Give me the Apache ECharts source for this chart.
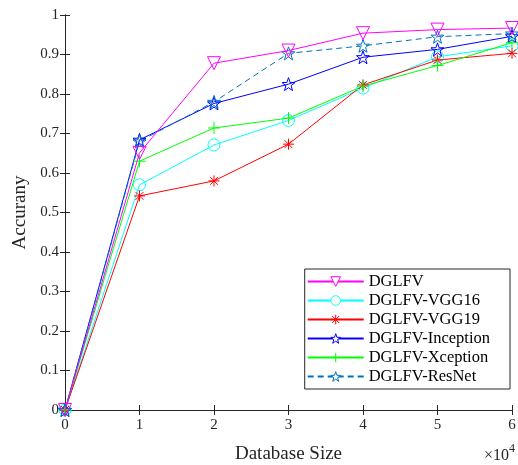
<!DOCTYPE html>
<html>
<head>
<meta charset="utf-8">
<script src="https://cdn.jsdelivr.net/npm/echarts@6/dist/echarts.min.js"></script>
<style>
  html, body { margin: 0; padding: 0; background: #fff; }
  #chart { width: 518px; height: 465px; }
</style>
</head>
<body>
<div id="chart"></div>
<script>
// database size (x 10^4)
const sizes = [0, 1, 2, 3, 4, 5, 6];

const dglfv     = [0, 0.651, 0.878, 0.910, 0.954, 0.963, 0.967];
const vgg16     = [0, 0.570, 0.671, 0.733, 0.815, 0.894, 0.922];
const vgg19     = [0, 0.542, 0.580, 0.673, 0.823, 0.886, 0.903];
const inception = [0, 0.684, 0.776, 0.825, 0.893, 0.913, 0.946];
const xception  = [0, 0.630, 0.714, 0.739, 0.820, 0.872, 0.930];
const resnet    = [0, 0.680, 0.780, 0.903, 0.922, 0.945, 0.953];

const seriesNames = ['DGLFV', 'DGLFV-VGG16', 'DGLFV-VGG19', 'DGLFV-Inception', 'DGLFV-Xception', 'DGLFV-ResNet'];
const colors = ['#ff00ff', '#00ffff', '#ff0000', '#0000ff', '#00ff00', '#0072bd'];

const STAR = 'path://M0,-10 L2.35,-3.24 L9.51,-3.09 L3.8,1.24 L5.88,8.09 L0,4 L-5.88,8.09 L-3.8,1.24 L-9.51,-3.09 L-2.35,-3.24 Z';
const ASTER = 'path://M-5,0 L5,0 M0,-5 L0,5 M-3.6,-3.6 L3.6,3.6 M-3.6,3.6 L3.6,-3.6';
const PLUS = 'path://M-5,0 L5,0 M0,-5 L0,5';

const serif = '"Liberation Serif", "DejaVu Serif", serif';
const ink = '#262626';

function pairs(vals) {
  return sizes.map((x, i) => [x, vals[i]]);
}

function mk(name, vals, color, symbol, size, opts) {
  opts = opts || {};
  return {
    name: name,
    type: 'line',
    data: pairs(vals),
    symbol: symbol,
    symbolSize: size,
    symbolRotate: opts.rotate || 0,
    showAllSymbol: true,
    lineStyle: { color: color, width: 1, type: opts.dash ? [6, 4] : 'solid' },
    itemStyle: { color: 'none', borderColor: color, borderWidth: 1 },
    emphasis: { disabled: true },
    animation: false,
    z: opts.z || 2
  };
}

const chart = echarts.init(document.getElementById('chart'));

const hiddenAxisCommon = {
  axisLine: { show: true, lineStyle: { color: ink, width: 1 } },
  axisTick: { show: true, inside: true, length: 5, lineStyle: { color: ink } },
  axisLabel: { show: false },
  splitLine: { show: false }
};

const option = {
  backgroundColor: '#fff',
  textStyle: { fontFamily: serif },
  grid: { left: 65, right: 6, top: 15, bottom: 55, outerBoundsMode: 'none' },
  legend: {
    orient: 'vertical',
    right: 8,
    top: 269,
    itemWidth: 56,
    itemHeight: 12,
    itemGap: 2,
    padding: [4, 20, 4, 2],
    borderColor: ink,
    borderWidth: 1,
    backgroundColor: '#fff',
    textStyle: { fontFamily: serif, fontSize: 16.5, color: '#000' },
    data: seriesNames.map((n, i) => ({
      name: n,
      itemStyle: { color: '#fff', borderColor: colors[i], borderWidth: 1 }
    }))
  },
  xAxis: [
    {
      type: 'value', min: 0, max: 6, interval: 1,
      name: 'Database Size', nameLocation: 'middle', nameGap: 35,
      nameTextStyle: { fontFamily: serif, fontSize: 19, color: ink },
      axisLine: { show: true, lineStyle: { color: ink, width: 1 } },
      axisTick: { show: true, inside: true, length: 5, lineStyle: { color: ink } },
      axisLabel: { fontFamily: serif, fontSize: 15, color: ink, margin: 8 },
      splitLine: { show: false }
    },
    Object.assign({ type: 'value', min: 0, max: 6, interval: 1, position: 'top' }, hiddenAxisCommon)
  ],
  yAxis: [
    {
      type: 'value', min: 0, max: 1, interval: 0.1,
      name: 'Accurany', nameLocation: 'middle', nameGap: 31,
      nameTextStyle: { fontFamily: serif, fontSize: 19, color: ink },
      axisLine: { show: true, lineStyle: { color: ink, width: 1 } },
      axisTick: { show: true, inside: true, length: 5, lineStyle: { color: ink } },
      axisLabel: { fontFamily: serif, fontSize: 15, color: ink, margin: 6 },
      splitLine: { show: false }
    },
    Object.assign({ type: 'value', min: 0, max: 1, interval: 0.1, position: 'right' }, hiddenAxisCommon)
  ],
  graphic: [
    {
      type: 'text',
      right: 3,
      bottom: 1,
      style: {
        text: '{a|×10}{b|4}',
        rich: {
          a: { fontFamily: serif, fontSize: 16, fill: ink, verticalAlign: 'bottom' },
          b: { fontFamily: serif, fontSize: 12, fill: ink, verticalAlign: 'top', padding: [0, 0, 9, 0] }
        }
      }
    }
  ],
  series: [
    mk(seriesNames[0], dglfv, colors[0], 'triangle', 13, { rotate: 180, z: 3 }),
    mk(seriesNames[1], vgg16, colors[1], 'circle', 12),
    mk(seriesNames[2], vgg19, colors[2], ASTER, 11),
    mk(seriesNames[3], inception, colors[3], STAR, 13),
    mk(seriesNames[4], xception, colors[4], PLUS, 12),
    mk(seriesNames[5], resnet, colors[5], STAR, 13, { dash: true })
  ]
};

chart.setOption(option);
</script>
</body>
</html>
